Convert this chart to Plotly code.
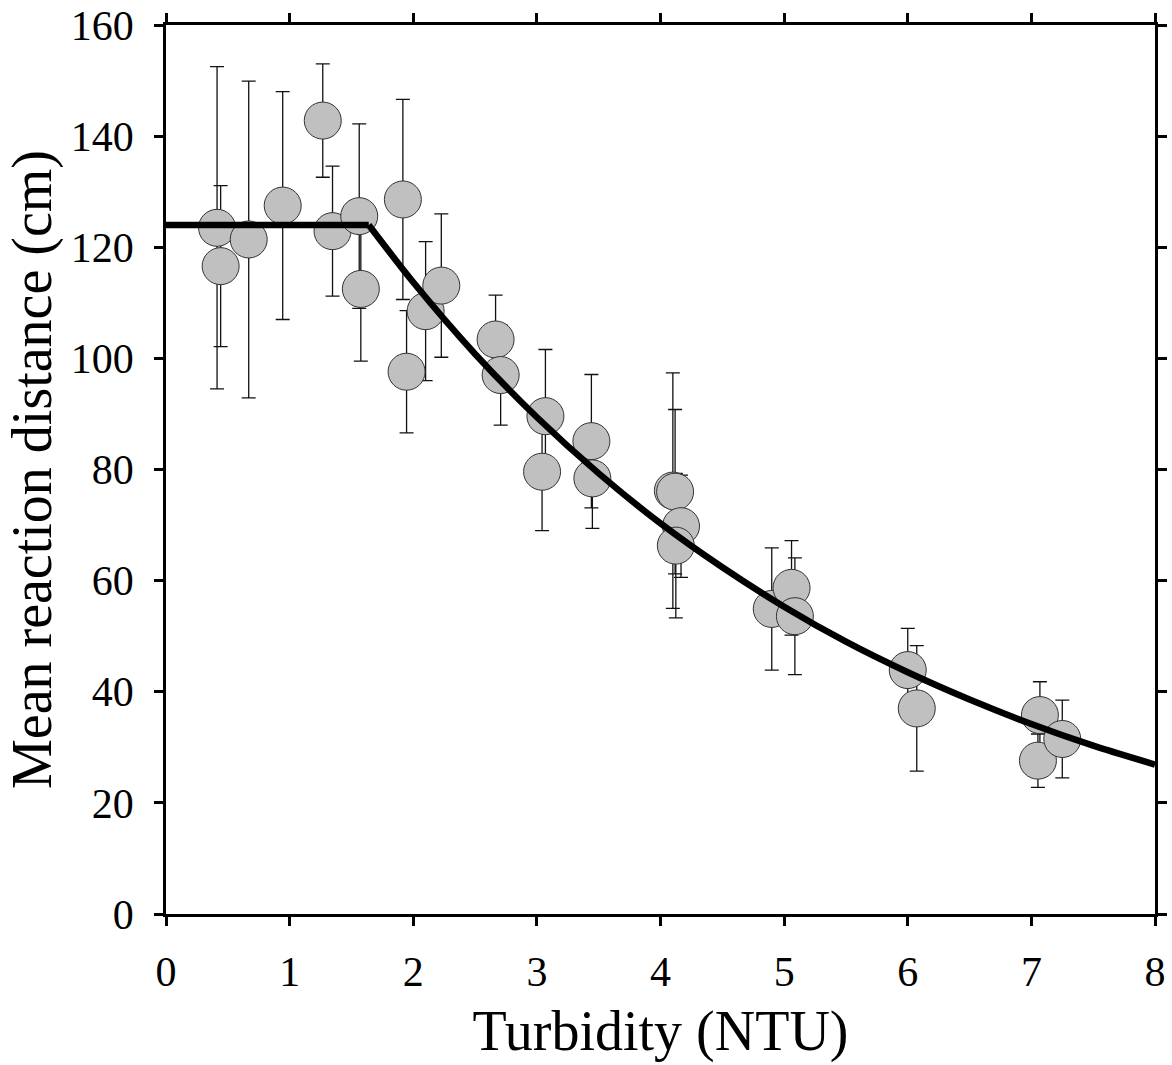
import plotly.graph_objects as go

# Observed means (turbidity, reaction distance) with error bars
turbidity = [0.413, 0.442, 0.669, 0.944, 1.268, 1.347, 1.563, 1.576, 1.916, 1.946,
             2.100, 2.227, 2.666, 2.707, 3.069, 3.042, 3.441, 3.449, 4.100, 4.118,
             4.166, 4.124, 4.900, 5.060, 5.087, 6.000, 6.073, 7.069, 7.053, 7.250]
reaction = [123.5, 116.6, 121.4, 127.5, 142.8, 122.9, 125.6, 112.5, 128.6, 97.6,
            108.5, 113.1, 103.4, 97.0, 89.6, 79.6, 85.1, 78.4, 76.2, 76.0,
            69.8, 66.3, 54.9, 58.7, 53.6, 43.9, 37.0, 35.8, 27.6, 31.5]
error = [29.0, 14.5, 28.5, 20.5, 10.2, 11.7, 16.6, 13.0, 18.0, 11.0,
         12.5, 12.9, 8.0, 9.0, 12.0, 10.6, 12.0, 9.0, 21.2, 14.8,
         9.2, 13.0, 11.0, 8.5, 10.5, 7.5, 11.3, 6.0, 4.8, 7.0]

# Fitted model: plateau then decline
plateau_x = [0.0, 1.64]
plateau_y = [124.0, 124.0]
decline_x = [1.64, 2.0, 2.5, 3.0, 3.5, 4.0, 4.5, 5.0, 5.5, 6.0, 6.5, 7.0, 7.5, 8.0]
decline_y = [124.0, 113.7, 100.8, 89.4, 79.3, 70.3, 62.4, 55.3, 49.0, 43.5, 38.6, 34.2, 30.3, 26.9]

x_ticks = [0, 1, 2, 3, 4, 5, 6, 7, 8]
y_ticks = [0, 20, 40, 60, 80, 100, 120, 140, 160]

FONT = "Liberation Serif, Times New Roman, serif"

fig = go.Figure()
fig.add_trace(go.Scatter(
    x=turbidity, y=reaction, mode="markers",
    marker=dict(size=37, color="#c0c0c0", line=dict(color="#333333", width=1)),
    error_y=dict(type="data", array=error, visible=True, color="#111111",
                 thickness=1.3, width=7),
    showlegend=False, cliponaxis=False,
))
fig.add_trace(go.Scatter(
    x=plateau_x, y=plateau_y, mode="lines",
    line=dict(color="black", width=6.5), showlegend=False,
))
fig.add_trace(go.Scatter(
    x=decline_x, y=decline_y, mode="lines",
    line=dict(color="black", width=6.5, shape="spline", smoothing=0.8), showlegend=False,
))

axis_common = dict(
    showline=True, linecolor="black", linewidth=2.5, mirror="ticks",
    ticks="outside", ticklen=9, tickwidth=2.5, tickcolor="black",
    showgrid=False, zeroline=False, automargin=False,
    tickfont=dict(family=FONT, size=42, color="black"),
)

fig.update_layout(
    width=1172, height=1065,
    margin=dict(l=166, r=17, t=25, b=151, autoexpand=False),
    paper_bgcolor="white", plot_bgcolor="white",
    font=dict(family=FONT, color="black"),
    xaxis=dict(range=[0, 8], tickvals=x_ticks, ticktext=[str(v) for v in x_ticks],
               title=dict(text="Turbidity (NTU)", font=dict(family=FONT, size=56), standoff=17),
               ticklabelstandoff=10, **axis_common),
    yaxis=dict(range=[0, 160], tickvals=y_ticks, ticktext=[str(v) for v in y_ticks],
               title=dict(text="Mean reaction distance (cm)", font=dict(family=FONT, size=56), standoff=2),
               ticklabelstandoff=12, **axis_common),
)

fig.write_html("out.html")
